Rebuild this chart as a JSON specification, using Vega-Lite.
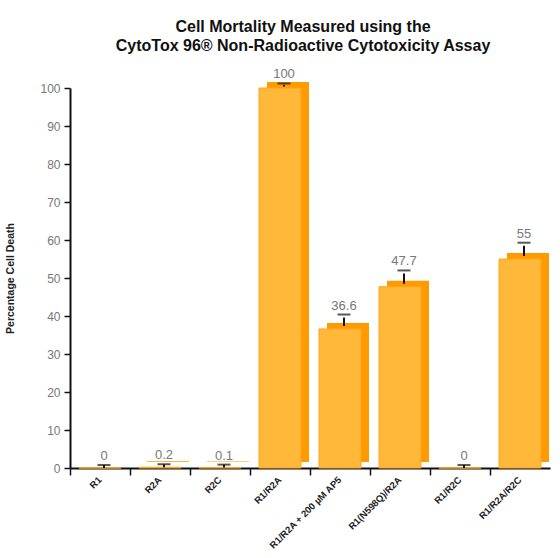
{
  "$schema": "https://vega.github.io/schema/vega-lite/v6.json",
  "autosize": {"type": "none"},
  "width": 480,
  "height": 380,
  "padding": {"left": 70, "top": 88, "right": 10, "bottom": 90},
  "background": "white",
  "title": {
    "text": ["Cell Mortality Measured using the", "CytoTox 96® Non-Radioactive Cytotoxicity Assay"],
    "font": "Liberation Sans",
    "fontSize": 16,
    "fontWeight": "bold",
    "color": "#111",
    "anchor": "middle",
    "dx": -7,
    "offset": 14,
    "lineHeight": 19
  },
  "data": {
    "values": [
      {"group": "R1", "value": 0, "err": 0, "label": "0"},
      {"group": "R2A", "value": 0.2, "err": 0, "label": "0.2"},
      {"group": "R2C", "value": 0.1, "err": 0, "label": "0.1"},
      {"group": "R1/R2A", "value": 100, "err": 0.4, "label": "100"},
      {"group": "R1/R2A + 200 µM AP5", "value": 36.6, "err": 3, "label": "36.6"},
      {"group": "R1(N598Q)/R2A", "value": 47.7, "err": 3.5, "label": "47.7"},
      {"group": "R1/R2C", "value": 0, "err": 0, "label": "0"},
      {"group": "R1/R2A/R2C", "value": 55, "err": 3.5, "label": "55"}
    ]
  },
  "transform": [{"calculate": "datum.value + datum.err", "as": "top"}],
  "encoding": {
    "x": {
      "field": "group",
      "type": "nominal",
      "sort": null,
      "scale": {"paddingInner": 0, "paddingOuter": 0},
      "axis": {
        "title": null,
        "labelAngle": -45,
        "labelAlign": "right",
        "labelBaseline": "middle",
        "labelFont": "Liberation Sans",
        "labelFontWeight": "bold",
        "labelFontSize": 9.5,
        "labelColor": "#222",
        "labelPadding": 3,
        "bandPosition": 0,
        "tickColor": "#111",
        "tickWidth": 1.5,
        "tickSize": 7,
        "domainColor": "#111",
        "domainWidth": 2
      }
    }
  },
  "layer": [
    {
      "mark": {"type": "bar", "color": "#FF9A00", "width": {"band": 0.7}, "xOffset": 8, "yOffset": -6},
      "encoding": {
        "y": {"field": "value", "type": "quantitative", "scale": {"domain": [0, 100], "nice": false}, "title": "Percentage Cell Death"}
      }
    },
    {
      "mark": {"type": "bar", "color": "#FFB83A", "width": {"band": 0.7}, "stroke": "#FFA41E", "strokeWidth": 1},
      "encoding": {"y": {"field": "value", "type": "quantitative"}}
    },
    {
      "mark": {"type": "rule", "color": "#111", "strokeWidth": 2, "xOffset": 4, "yOffset": -3},
      "encoding": {"y": {"field": "value", "type": "quantitative"}, "y2": {"field": "top"}}
    },
    {
      "mark": {"type": "tick", "color": "#111", "size": 13, "thickness": 2, "xOffset": 4, "yOffset": -3},
      "encoding": {"y": {"field": "top", "type": "quantitative"}}
    },
    {
      "mark": {"type": "text", "color": "#777", "fontSize": 13, "font": "Liberation Sans", "baseline": "bottom", "dy": -5, "xOffset": 4},
      "encoding": {"y": {"field": "top", "type": "quantitative"}, "text": {"field": "label"}}
    }
  ],
  "config": {
    "view": {"stroke": null},
    "axisY": {
      "tickCount": 10,
      "titleFont": "Liberation Sans",
      "titleFontSize": 10.5,
      "titleFontWeight": "bold",
      "titleColor": "#222",
      "titlePadding": 24,
      "labelFont": "Liberation Sans",
      "labelFontSize": 12,
      "labelColor": "#777",
      "labelPadding": 4,
      "tickColor": "#111",
      "tickSize": 6,
      "tickWidth": 1.5,
      "domainColor": "#111",
      "domainWidth": 2,
      "grid": false
    }
  }
}
